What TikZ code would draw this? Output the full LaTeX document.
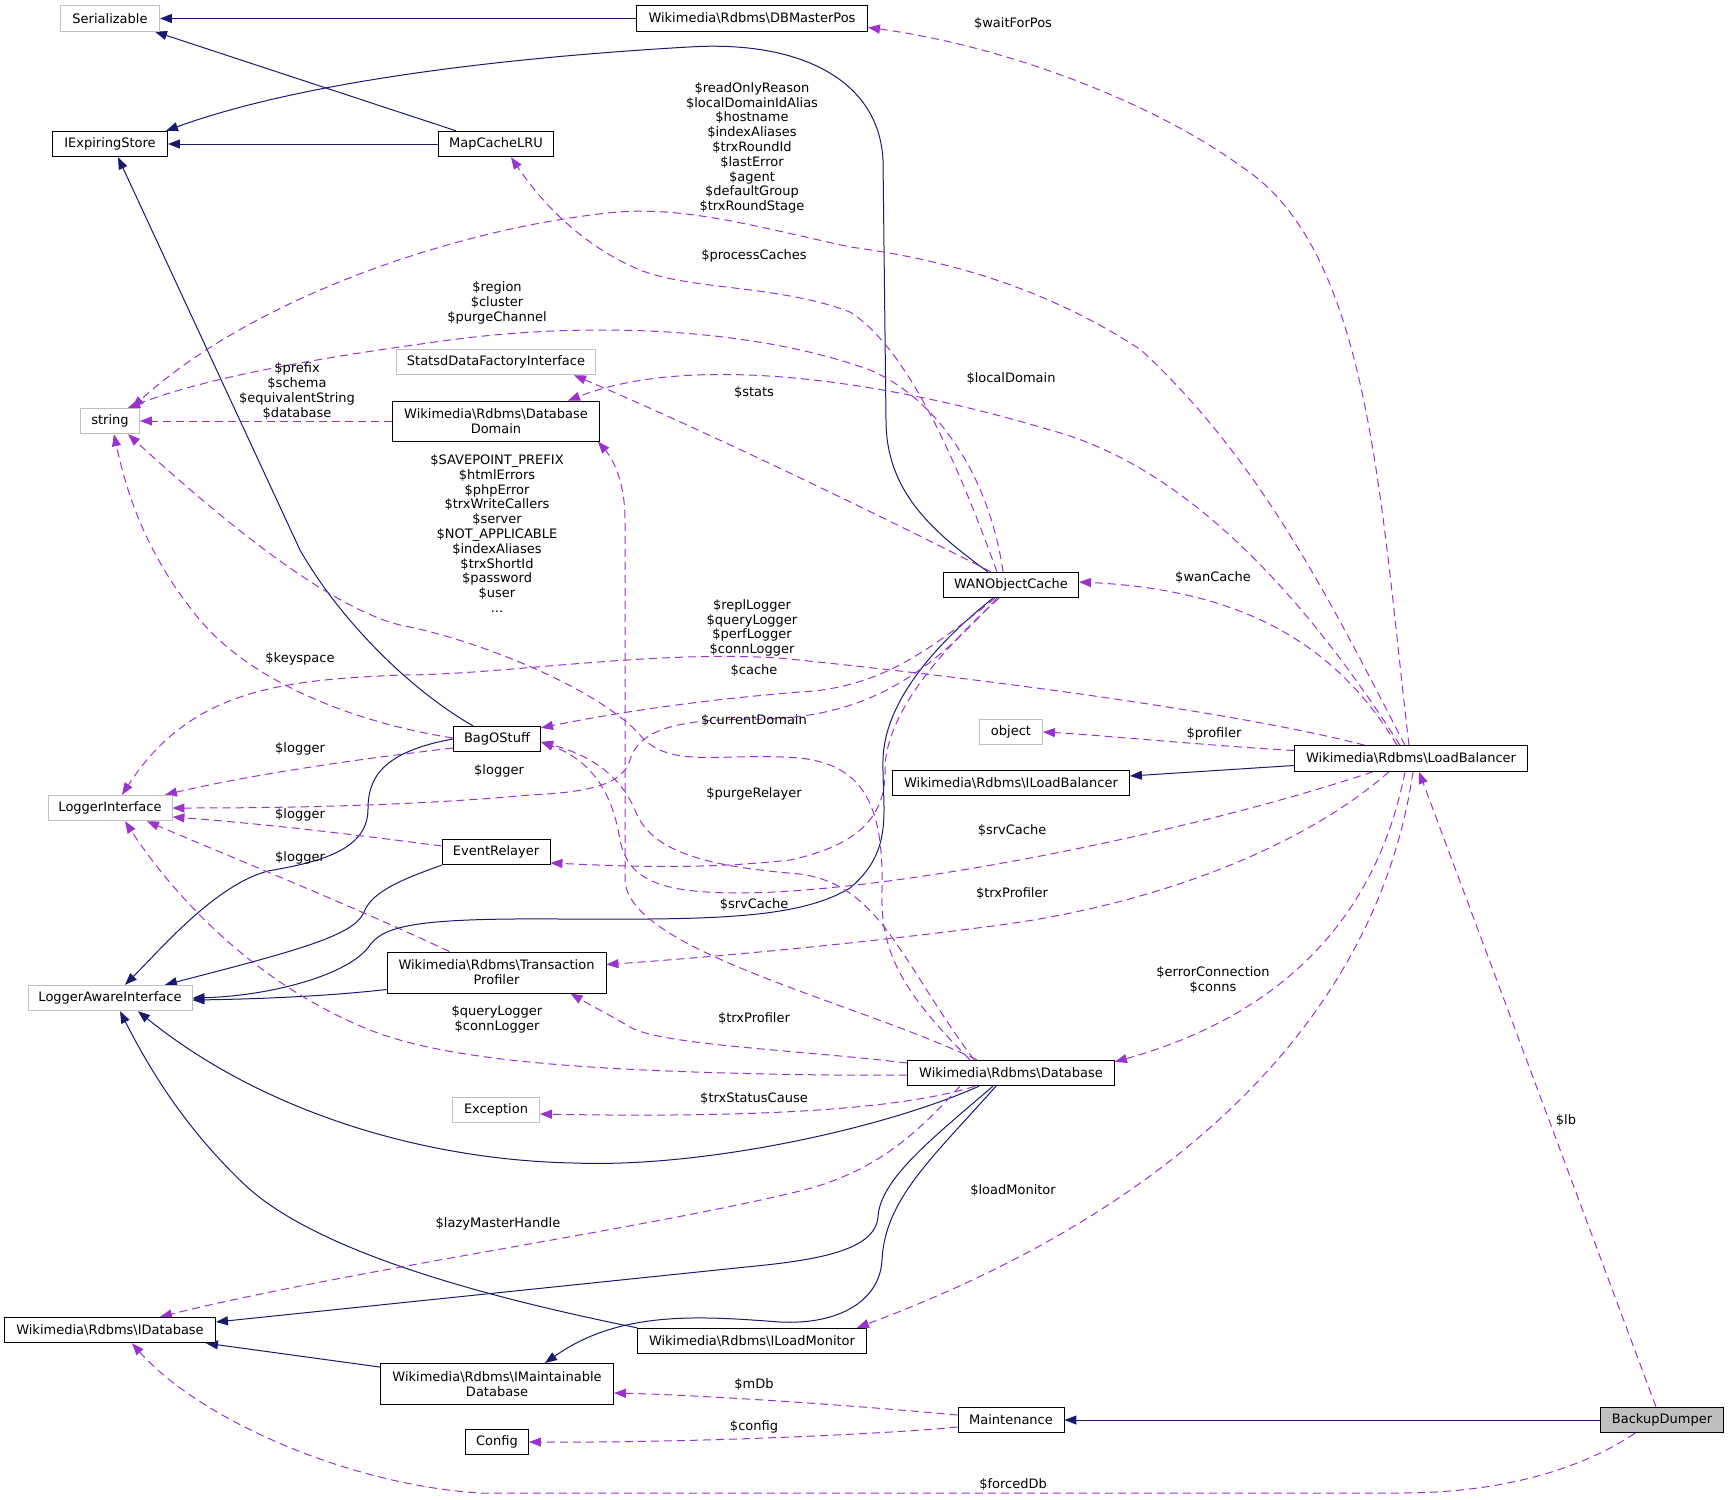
\documentclass[tikz,border=0pt]{standalone}
\usepackage{fontspec}
\setmainfont{DejaVu Sans}
\usetikzlibrary{arrows.meta}
\definecolor{inhblue}{HTML}{191970}
\definecolor{usepurple}{HTML}{9A32CD}
\definecolor{extgray}{HTML}{BFBFBF}
\pgfdeclarelayer{edges}
\pgfsetlayers{edges,main}
\newcommand{\rdbms}{Wikimedia\textbackslash Rdbms\textbackslash}

\begin{document}
\begin{tikzpicture}[x=1pt, y=-1pt,
    txt/.style={font=\fontsize{13}{14.8}\selectfont},
    cls/.style={txt, rectangle, draw=black, fill=white, line width=0.9pt, inner sep=0pt, minimum height=25.5pt, align=center},
    ext/.style={cls, draw=extgray},
    lbl/.style={txt, inner sep=0pt, align=center},
    inh/.style={draw=inhblue, line width=1pt, -{Triangle[length=12pt, width=9pt]}},
    usage/.style={draw=usepurple, line width=1pt, dash pattern=on 8pt off 5pt, -{Triangle[length=12pt, width=9pt]}}]
    \useasboundingbox (0,0) rectangle (1729,1499);

    % Klassen links
    \node[ext, minimum width=99pt] (ser) at (110,18.5) {Serializable};
    \node[cls, minimum width=115pt] (ies) at (110,144) {IExpiringStore};
    \node[ext, minimum width=59pt] (str) at (110,421) {string};
    \node[ext, minimum width=124pt] (logi) at (110,808) {LoggerInterface};
    \node[ext, minimum width=164pt] (lai) at (110,998) {LoggerAwareInterface};
    \node[cls, minimum width=211pt] (idb) at (110,1330) {\rdbms IDatabase};

    % Klassen Mitte
    \node[cls, minimum width=115pt] (mapc) at (496,144) {MapCacheLRU};
    \node[ext, minimum width=199pt] (statsd) at (496,362) {StatsdDataFactoryInterface};
    \node[cls, minimum width=207pt, minimum height=40pt] (dbdom) at (496,421) {\rdbms Database\\Domain};
    \node[cls, minimum width=87pt] (bag) at (497,739) {BagOStuff};
    \node[cls, minimum width=108pt] (evr) at (496,852) {EventRelayer};
    \node[cls, minimum width=219pt, minimum height=41pt] (trxp) at (496.5,972.5) {\rdbms Transaction\\Profiler};
    \node[ext, minimum width=87pt] (exc) at (496,1110) {Exception};
    \node[cls, minimum width=233pt, minimum height=41pt] (imdb) at (497,1384) {\rdbms IMaintainable\\Database};
    \node[cls, minimum width=63pt] (cfg) at (497,1442) {Config};

    % Klassen rechts
    \node[cls, minimum width=231pt] (dbpos) at (752,18.5) {\rdbms DBMasterPos};
    \node[cls, minimum width=229pt] (ilm) at (752,1341) {\rdbms ILoadMonitor};
    \node[cls, minimum width=135pt] (wan) at (1011,585) {WANObjectCache};
    \node[ext, minimum width=63pt] (obj) at (1011,732) {object};
    \node[cls, minimum width=237pt] (ilb) at (1011,783) {\rdbms ILoadBalancer};
    \node[cls, minimum width=207pt] (db) at (1011,1073) {\rdbms Database};
    \node[cls, minimum width=106pt] (maint) at (1011,1420) {Maintenance};
    \node[cls, minimum width=233pt] (lb) at (1411,758.5) {\rdbms LoadBalancer};
    \node[cls, fill=extgray, minimum width=123pt] (dumper) at (1662,1420) {BackupDumper};

    \begin{pgfonlayer}{edges}
    % Vererbung
    \draw[inh] (dbpos.west) -- (ser.east);
    \draw[inh] ([xshift=-40pt]mapc.north) -- ([xshift=-5pt]ser.south east);
    \draw[inh] (mapc.west) -- (ies.east);
    \draw[inh] ([xshift=-23pt]wan.north) .. controls (930,530) and (886,490) .. (886,420) -- (883,160) .. controls (879,80) and (800,40) .. (689,47) .. controls (550,55) and (320,75) .. ([xshift=-2pt]ies.north east);
    \draw[inh] ([xshift=-24pt]bag.north) .. controls (410,690) and (340,620) .. (300,550) -- ([xshift=8pt]ies.south);
    \draw[inh] (bag.west) .. controls (380,752) and (368,780) .. (368,809) .. controls (368,850) and (320,862) .. (268,871) .. controls (215,885) and (160,950) .. ([xshift=15pt]lai.north);
    \draw[inh] (evr.south west) .. controls (400,880) and (372,892) .. (364,912) .. controls (355,935) and (300,950) .. ([xshift=55pt]lai.north);
    \draw[inh] ([xshift=-18pt]wan.south) .. controls (940,640) and (884,700) .. (883,760) .. controls (882,810) and (895,850) .. (850,888) .. controls (810,912) and (750,918) .. (650,919) -- (560,919) .. controls (420,918) and (385,925) .. (370,945) .. controls (350,975) and (270,996) .. (lai.east);
    \draw[inh] ([yshift=4pt]trxp.south west) .. controls (330,996) and (260,999) .. ([yshift=-2pt]lai.east);
    \draw[inh] ([xshift=-32pt]db.south) .. controls (880,1130) and (700,1168) .. (574,1163) .. controls (420,1160) and (260,1110) .. ([xshift=28pt]lai.south);
    \draw[inh] ([xshift=-18pt]db.south) .. controls (930,1140) and (880,1180) .. (878,1217) .. controls (875,1250) and (820,1260) .. (746,1267) -- ([yshift=8pt]idb.east);
    \draw[inh] ([xshift=-15pt]db.south) .. controls (930,1160) and (885,1200) .. (882,1260) .. controls (880,1300) and (840,1325) .. (780,1322) .. controls (700,1316) and (620,1310) .. ([xshift=48pt]imdb.north);
    \draw[inh] (ilm.north west) .. controls (500,1300) and (320,1255) .. (245,1185) .. controls (185,1128) and (150,1070) .. ([xshift=10pt]lai.south);
    \draw[inh] ([yshift=-4pt]imdb.north west) -- ([xshift=-10pt]idb.south east);
    \draw[inh] ([yshift=-7pt]lb.west) -- ([yshift=7pt]ilb.east);
    \draw[inh] (dumper.west) -- (maint.east);

    % Verwendung
    \draw[usage] ([xshift=-2pt]lb.north) .. controls (1380,500) and (1370,250) .. (1242,167) .. controls (1150,100) and (1000,45) .. ([yshift=-9pt]dbpos.east);
    \draw[usage] ([xshift=-6pt]lb.north) .. controls (1330,600) and (1260,460) .. (1141,350) .. controls (1050,290) and (950,260) .. (850,247) .. controls (750,225) and (680,205) .. (608,213) .. controls (450,230) and (250,300) .. ([xshift=22pt]str.north);
    \draw[usage] ([xshift=-14pt]wan.north) .. controls (960,470) and (910,350) .. (850,312) .. controls (780,285) and (690,290) .. (640,270) .. controls (580,245) and (540,200) .. ([xshift=15pt]mapc.south);
    \draw[usage] ([xshift=-8pt]wan.north) .. controls (990,480) and (940,400) .. (870,370) .. controls (760,330) and (600,320) .. (450,340) .. controls (300,360) and (200,380) .. ([xshift=18pt]str.north);
    \draw[usage] (dbdom.west) -- (str.east);
    \draw[usage] ([xshift=-20pt]wan.north) .. controls (850,500) and (680,420) .. ([xshift=78pt]statsd.south);
    \draw[usage] ([xshift=-11pt]lb.north) .. controls (1320,620) and (1200,470) .. (1050,430) .. controls (900,385) and (700,350) .. ([xshift=72pt]dbdom.north);
    \draw[usage] ([xshift=-41pt]db.north) .. controls (900,990) and (880,950) .. (882,890) .. controls (884,800) and (860,765) .. (800,758) .. controls (720,752) and (670,770) .. (640,735) .. controls (600,690) and (480,640) .. (400,625) .. controls (320,605) and (200,500) .. ([xshift=18pt]str.south);
    \draw[usage] ([xshift=-34pt]db.north) .. controls (850,1000) and (628,950) .. (625,880) -- (625,520) .. controls (625,480) and (612,458) .. ([xshift=-2pt]dbdom.south east);
    \draw[usage] ([yshift=1pt]bag.west) .. controls (350,722) and (250,680) .. (200,620) .. controls (150,560) and (128,500) .. ([xshift=4pt]str.south);
    \draw[usage] ([yshift=-9pt]bag.west) .. controls (350,760) and (250,775) .. ([xshift=55pt]logi.north);
    \draw[usage] ([xshift=-14pt]wan.south) .. controls (940,660) and (880,718) .. (760,719) .. controls (690,719) and (640,725) .. (630,760) .. controls (622,785) and (590,792) .. (530,795) .. controls (420,805) and (300,808) .. (logi.east);
    \draw[usage] ([yshift=6pt]evr.west) .. controls (380,838) and (280,825) .. ([yshift=-9pt]logi.east);
    \draw[usage] ([xshift=-47pt]trxp.north) .. controls (350,905) and (250,865) .. ([xshift=37pt]logi.south);
    \draw[usage] ([yshift=-2pt]db.west) -- (830,1075) .. controls (600,1072) and (450,1062) .. (370,1030) .. controls (250,982) and (170,890) .. ([xshift=15pt]logi.south);
    \draw[usage] ([xshift=-46pt]lb.north) .. controls (1250,715) and (1000,680) .. (779,658) .. controls (650,650) and (500,675) .. (402,675) .. controls (280,680) and (190,690) .. ([xshift=12pt]logi.north);
    \draw[usage] ([xshift=-16pt]wan.south) .. controls (930,650) and (880,688) .. (800,692) .. controls (700,700) and (620,712) .. ([yshift=-2pt]bag.north east);
    \draw[usage] ([xshift=-38pt]lb.south) .. controls (1200,830) and (900,892) .. (740,893) .. controls (660,893) and (628,880) .. (620,840) .. controls (612,790) and (590,760) .. ([yshift=-3pt]bag.east);
    \draw[usage] ([xshift=-37pt]db.north) .. controls (900,960) and (880,885) .. (800,874) .. controls (700,866) and (650,850) .. (635,810) .. controls (620,775) and (590,755) .. ([yshift=-3pt]bag.east);
    \draw[usage] ([xshift=-12pt]wan.south) .. controls (930,660) and (885,720) .. (885,770) .. controls (886,815) and (860,845) .. (790,860) .. controls (700,870) and (620,866) .. ([yshift=-11pt]evr.east);
    \draw[usage] ([xshift=-14pt]lb.north) .. controls (1340,650) and (1250,590) .. ([yshift=3pt]wan.east);
    \draw[usage] ([yshift=8pt]lb.west) .. controls (1200,745) and (1100,735) .. (obj.east);
    \draw[usage] ([xshift=-22pt]lb.south) .. controls (1300,850) and (1150,905) .. (1000,925) .. controls (850,945) and (700,958) .. ([yshift=8pt]trxp.east);
    \draw[usage] ([xshift=-6pt]lb.south) .. controls (1380,900) and (1300,1010) .. ([yshift=-2pt]db.north east);
    \draw[usage] ([xshift=2pt]lb.south) .. controls (1380,1000) and (1200,1200) .. ([xshift=-10pt]ilm.north east);
    \draw[usage] ([xshift=-6pt]dumper.north) -- ([xshift=8pt]lb.south);
    \draw[usage] ([xshift=-27pt]dumper.south) .. controls (1580,1470) and (1500,1493) .. (1400,1493) -- (480,1493) .. controls (350,1485) and (200,1420) .. ([xshift=22pt]idb.south);
    \draw[usage] ([yshift=5pt]maint.west) .. controls (850,1405) and (700,1395) .. ([yshift=-9pt]imdb.east);
    \draw[usage] ([yshift=-7pt]maint.west) .. controls (900,1433) and (700,1443) .. (cfg.east);
    \draw[usage] ([xshift=-36pt]db.south) .. controls (900,1110) and (750,1118) .. ([yshift=-4pt]exc.east);
    \draw[usage] ([xshift=-51pt]db.south) .. controls (920,1130) and (880,1170) .. (804,1190) .. controls (650,1228) and (350,1270) .. ([xshift=50pt]idb.north);
    \draw[usage] ([yshift=10pt]db.west) .. controls (800,1050) and (660,1045) .. (630,1027) .. controls (610,1015) and (590,1005) .. ([xshift=74pt]trxp.south);
    \end{pgfonlayer}

    % Beschriftungen
    \node[lbl] (l-waitforpos) at (1013,24) {\$waitForPos};
    \node[lbl] (l-readonly) at (752,148) {\$readOnlyReason\\\$localDomainIdAlias\\\$hostname\\\$indexAliases\\\$trxRoundId\\\$lastError\\\$agent\\\$defaultGroup\\\$trxRoundStage};
    \node[lbl] (l-processcaches) at (754,256) {\$processCaches};
    \node[lbl] (l-region) at (497,303) {\$region\\\$cluster\\\$purgeChannel};
    \node[lbl] (l-prefix) at (297,391) {\$prefix\\\$schema\\\$equivalentString\\\$database};
    \node[lbl] (l-stats) at (754,393) {\$stats};
    \node[lbl] (l-localdomain) at (1011,379) {\$localDomain};
    \node[lbl] (l-savepoint) at (497,533.5) {\$SAVEPOINT\_PREFIX\\\$htmlErrors\\\$phpError\\\$trxWriteCallers\\\$server\\\$NOT\_APPLICABLE\\\$indexAliases\\\$trxShortId\\\$password\\\$user\\...};
    \node[lbl] (l-wancache) at (1213,578) {\$wanCache};
    \node[lbl] (l-repllogger) at (752,628) {\$replLogger\\\$queryLogger\\\$perfLogger\\\$connLogger};
    \node[lbl] (l-keyspace) at (300,659) {\$keyspace};
    \node[lbl] (l-cache) at (754,671) {\$cache};
    \node[lbl] (l-currentdomain) at (754,721) {\$currentDomain};
    \node[lbl] (l-profiler) at (1214,734) {\$profiler};
    \node[lbl] (l-logger-bag) at (300,749) {\$logger};
    \node[lbl] (l-logger-wan) at (499,771) {\$logger};
    \node[lbl] (l-purgerelayer) at (754,794) {\$purgeRelayer};
    \node[lbl] (l-logger-evr) at (300,815) {\$logger};
    \node[lbl] (l-srvcache-lb) at (1012,831) {\$srvCache};
    \node[lbl] (l-logger-trxp) at (300,858) {\$logger};
    \node[lbl] (l-trxprofiler-lb) at (1012,894) {\$trxProfiler};
    \node[lbl] (l-srvcache-db) at (754,905) {\$srvCache};
    \node[lbl] (l-errorconn) at (1213,980) {\$errorConnection\\\$conns};
    \node[lbl] (l-querylogger) at (497,1019) {\$queryLogger\\\$connLogger};
    \node[lbl] (l-trxprofiler-db) at (754,1019) {\$trxProfiler};
    \node[lbl] (l-trxstatus) at (754,1099) {\$trxStatusCause};
    \node[lbl] (l-lb) at (1566,1121) {\$lb};
    \node[lbl] (l-loadmonitor) at (1013,1191) {\$loadMonitor};
    \node[lbl] (l-lazymaster) at (498,1224) {\$lazyMasterHandle};
    \node[lbl] (l-mdb) at (754,1384) {\$mDb};
    \node[lbl] (l-config) at (754,1427) {\$config};
    \node[lbl] (l-forceddb) at (1013,1484) {\$forcedDb};
\end{tikzpicture}
\end{document}
